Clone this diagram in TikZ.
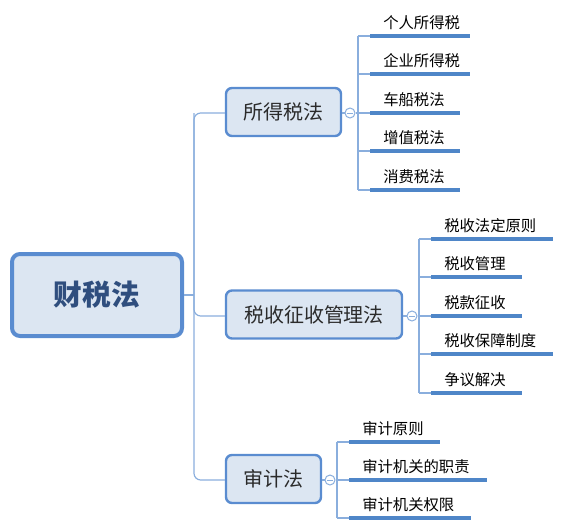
\documentclass[tikz,border=0pt]{standalone}
\usepackage{fontspec}
\setmainfont{Noto Sans CJK SC}
\begin{document}
\begin{tikzpicture}[x=0.75pt,y=-0.75pt,
  rootbox/.style={draw=boxblue,line width=3pt,fill=boxfill,rounded corners=6pt,
    text=rootblue,font=\fontsize{21.5pt}{24pt}\selectfont\bfseries,inner sep=0pt},
  mainbox/.style={draw=boxblue,line width=1.8pt,fill=boxfill,rounded corners=4.5pt,
    text=textgray,font=\fontsize{15pt}{18pt}\selectfont,inner sep=0pt,minimum height=36pt},
  leaf/.style={anchor=south west,font=\fontsize{11.5pt}{13pt}\selectfont,align=left,
    inner xsep=9.75pt,inner ysep=4.5pt,text=black},
  uline/.style={draw=underblue,line width=3pt},
  trunk/.style={draw=trunkblue,line width=0.9pt,rounded corners=5pt},
  conn/.style={draw=trunkblue,line width=0.9pt},
  knob/.style={circle,draw=trunkblue,fill=white,line width=0.75pt,minimum size=7.5pt,inner sep=0pt}
]
\definecolor{boxblue}{HTML}{5A8CD0}
\definecolor{boxfill}{HTML}{DCE6F2}
\definecolor{rootblue}{HTML}{2F4E7E}
\definecolor{textgray}{HTML}{2B2B2B}
\definecolor{underblue}{HTML}{4F86C8}
\definecolor{trunkblue}{HTML}{8AAEDD}
\useasboundingbox (0,0) rectangle (562,532);

% main nodes
\node[rootbox,minimum width=127.5pt,minimum height=61.5pt] (root) at (97,295) {财税法};
\node[mainbox,minimum width=86.25pt] (b1) at (283.5,112) {所得税法};
\node[mainbox,minimum width=132pt] (b2) at (314,314.5) {税收征收管理法};
\node[mainbox,minimum width=71.25pt] (b3) at (273.5,479) {审计法};

% trunk
\coordinate (tr) at (194,295);
\coordinate (t1) at (194,113);
\coordinate (t2) at (194,316);
\coordinate (t3) at (194,480);
\draw[conn] (root.east) -- (tr);
\draw[trunk] (b1.west |- t1) -- (t1) -- (t3) -- (b3.west |- t3);
\draw[trunk] (t1) -- (t2) -- (b2.west |- t2);

% knobs
\node[knob] (k1) at (350,113) {};
\node[knob] (k2) at (412,316) {};
\node[knob] (k3) at (330,480) {};
\foreach \k in {k1,k2,k3}{
  \draw[trunkblue,line width=0.7pt] ([xshift=-2.2pt]\k.center) -- ([xshift=2.2pt]\k.center);
}

% branch 1 leaves
\node[leaf,text width=54.75pt] (l11) at (370,36) {个人所得税};
\node[leaf,text width=54.75pt] (l12) at (370,74) {企业所得税};
\node[leaf,text width=47.25pt] (l13) at (370,113) {车船税法};
\node[leaf,text width=47.25pt] (l14) at (370,151) {增值税法};
\node[leaf,text width=47.25pt] (l15) at (370,190) {消费税法};
\coordinate (v1a) at (358,36);
\coordinate (v1b) at (358,190);
\draw[conn] (b1.east |- k1) -- (k1);
\draw[conn] (k1) -- (358,113);
\draw[conn] (v1a) -- (v1b);
\foreach \l in {l11,l12,l13,l14,l15}{
  \draw[conn] (v1a |- \l.south west) -- (\l.south west);
  \draw[uline] (\l.south west) -- (\l.south east);
}

% branch 2 leaves
\node[leaf,text width=71.25pt] (l21) at (431,239) {税收法定原则};
\node[leaf,text width=48pt] (l22) at (431,277) {税收管理};
\node[leaf,text width=48pt] (l23) at (431,316) {税款征收};
\node[leaf,text width=71.25pt] (l24) at (431,354) {税收保障制度};
\node[leaf,text width=48pt] (l25) at (431,393) {争议解决};
\coordinate (v2a) at (419,239);
\coordinate (v2b) at (419,393);
\draw[conn] (b2.east |- k2) -- (k2);
\draw[conn] (k2) -- (419,316);
\draw[conn] (v2a) -- (v2b);
\foreach \l in {l21,l22,l23,l24,l25}{
  \draw[conn] (v2a |- \l.south west) -- (\l.south west);
  \draw[uline] (\l.south west) -- (\l.south east);
}

% branch 3 leaves
\node[leaf,text width=48pt] (l31) at (349,442) {审计原则};
\node[leaf,text width=83.25pt] (l32) at (349,480) {审计机关的职责};
\node[leaf,text width=71.25pt] (l33) at (349,518) {审计机关权限};
\coordinate (v3a) at (337,442);
\coordinate (v3b) at (337,518);
\draw[conn] (b3.east |- k3) -- (k3);
\draw[conn] (k3) -- (337,480);
\draw[conn] (v3a) -- (v3b);
\foreach \l in {l31,l32,l33}{
  \draw[conn] (v3a |- \l.south west) -- (\l.south west);
  \draw[uline] (\l.south west) -- (\l.south east);
}
\end{tikzpicture}
\end{document}
